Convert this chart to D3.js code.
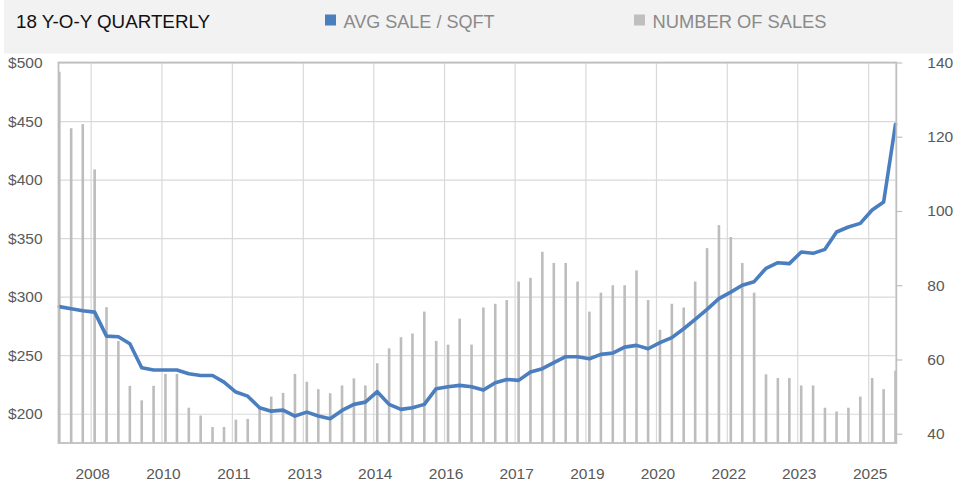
<!DOCTYPE html>
<html>
<head>
<meta charset="utf-8">
<script src="https://cdn.jsdelivr.net/npm/d3@7"></script>
<style>
  html, body { margin: 0; padding: 0; background: #ffffff; }
  svg { display: block; }
</style>
</head>
<body>
<svg id="chart" width="953" height="487"></svg>
<script>
// ---------------- DATA ----------------
const quarters = [
  "2007-11",
  "2008-02","2008-05","2008-08","2008-11",
  "2009-02","2009-05","2009-08","2009-11",
  "2010-02","2010-05","2010-08","2010-11",
  "2011-02","2011-05","2011-08","2011-11",
  "2012-02","2012-05","2012-08","2012-11",
  "2013-02","2013-05","2013-08","2013-11",
  "2014-02","2014-05","2014-08","2014-11",
  "2015-02","2015-05","2015-08","2015-11",
  "2016-02","2016-05","2016-08","2016-11",
  "2017-02","2017-05","2017-08","2017-11",
  "2018-02","2018-05","2018-08","2018-11",
  "2019-02","2019-05","2019-08","2019-11",
  "2020-02","2020-05","2020-08","2020-11",
  "2021-02","2021-05","2021-08","2021-11",
  "2022-02","2022-05","2022-08","2022-11",
  "2023-02","2023-05","2023-08","2023-11",
  "2024-02","2024-05","2024-08","2024-11",
  "2025-02","2025-05","2025-08"
];

// AVG SALE / SQFT (left axis, $)
const avgSaleSqft = [
  291.5, 289.7, 288.0, 286.8, 266.3, 265.8, 259.8, 239.3, 237.3, 237.3,
  237.3, 234.2, 232.7, 232.7, 227.0, 218.5, 215.0, 205.1, 202.2, 203.1,
  198.0, 201.4, 198.0, 195.7, 202.8, 208.0, 209.9, 218.8, 208.0, 203.7,
  205.1, 208.0, 221.4, 223.1, 224.2, 223.1, 220.2, 226.5, 229.3, 228.5,
  235.6, 238.5, 243.6, 248.7, 248.7, 247.0, 250.7, 251.8, 256.9, 258.4,
  255.5, 260.7, 265.0, 272.6, 280.6, 289.1, 298.3, 303.9, 309.7, 312.8,
  324.2, 329.0, 328.2, 338.1, 337.0, 340.4, 355.2, 359.5, 362.6, 374.0,
  380.9, 447.3
];

// NUMBER OF SALES (right axis)
const numberOfSales = [
  137.5, 122.3, 123.4, 111.2, 74.1, 65.0, 52.9, 49.0, 52.9, 56.1,
  56.1, 47.0, 44.9, 41.8, 41.8, 43.8, 44.0, 47.0, 50.0, 51.0,
  56.1, 54.0, 52.0, 50.9, 53.0, 54.9, 53.0, 59.0, 63.0, 66.0,
  67.0, 72.9, 65.0, 64.0, 71.0, 64.0, 74.0, 75.0, 76.0, 81.0,
  82.0, 89.0, 86.0, 86.0, 81.0, 72.9, 78.0, 80.0, 80.0, 84.0,
  76.0, 68.0, 75.0, 74.0, 81.0, 90.0, 96.2, 93.0, 86.0, 78.0,
  56.0, 55.0, 55.0, 53.0, 53.0, 47.0, 46.0, 47.0, 50.0, 55.0,
  52.0, 57.0
];

const leftTicks = [200, 250, 300, 350, 400, 450, 500];
const rightTicks = [40, 60, 80, 100, 120, 140];
const xTickDates = ["2008-07","2010-01","2011-07","2013-01","2014-07","2016-01",
                    "2017-07","2019-01","2020-07","2022-01","2023-07","2025-01"];
const xTickLabels = ["2008","2010","2011","2013","2014","2016",
                     "2017","2019","2020","2022","2023","2025"];

const titleText = "18 Y-O-Y QUARTERLY";
const legendNames = ["AVG SALE / SQFT", "NUMBER OF SALES"];
const legendColors = ["#4a7ebf", "#bfbfbf"];

// ---------------- LAYOUT ----------------
const W = 953, H = 487;
const plot = { left: 59.3, right: 895.5, top: 62.5, bottom: 443 };
const parseMonth = d3.timeParse("%Y-%m");
const dates = quarters.map(parseMonth);

const svg = d3.select("#chart");

// header band
svg.append("rect").attr("x", 4).attr("y", 0).attr("width", W - 4).attr("height", 53.5)
  .attr("fill", "#f2f2f2");

svg.append("text").attr("x", 16).attr("y", 28.3)
  .attr("font-family", "'Liberation Sans', Arial, sans-serif")
  .attr("font-size", 18.5).attr("fill", "#111111")
  .attr("textLength", 194).attr("lengthAdjust", "spacingAndGlyphs")
  .text(titleText);

const legendX = [325, 634];
const legendTextLen = [151, 174];
legendNames.forEach((name, i) => {
  svg.append("rect").attr("x", legendX[i]).attr("y", 14.5)
    .attr("width", 11).attr("height", 11).attr("fill", legendColors[i]);
  svg.append("text").attr("x", legendX[i] + 18.5).attr("y", 28.3)
    .attr("font-family", "'Liberation Sans', Arial, sans-serif")
    .attr("font-size", 18.5).attr("fill", "#8a8a8a")
    .attr("textLength", legendTextLen[i]).attr("lengthAdjust", "spacingAndGlyphs")
    .text(name);
});

// scales
const x = d3.scaleTime()
  .domain([dates[0], dates[dates.length - 1]])
  .range([plot.left, plot.right]);
const yL = d3.scaleLinear().domain([175, 500]).range([plot.bottom, plot.top]);
const yR = d3.scaleLinear().domain([37.5, 140]).range([plot.bottom, plot.top]);

const font = "'Liberation Sans', Arial, sans-serif";

// horizontal gridlines (left axis)
const gridH = d3.axisLeft(yL).tickValues(leftTicks)
  .tickSize(-(plot.right - plot.left)).tickFormat("");
svg.append("g").attr("transform", `translate(${plot.left},0)`).call(gridH)
  .call(g => g.select(".domain").remove())
  .call(g => g.selectAll("line").attr("stroke", "#d9d9d9").attr("stroke-width", 1.2));

// vertical gridlines
const xTicks = xTickDates.map(parseMonth);
const gridV = d3.axisBottom(x).tickValues(xTicks)
  .tickSize(-(plot.bottom - plot.top)).tickFormat("");
svg.append("g").attr("transform", `translate(0,${plot.bottom})`).call(gridV)
  .call(g => g.select(".domain").remove())
  .call(g => g.selectAll("line").attr("stroke", "#d9d9d9").attr("stroke-width", 1.2));

// bars
svg.append("g").selectAll("rect").data(numberOfSales).join("rect")
  .attr("x", (d, i) => x(dates[i]) - 1.3)
  .attr("width", 2.6)
  .attr("y", d => yR(d))
  .attr("height", d => plot.bottom - yR(d))
  .attr("fill", "#bdbdbd");

// line
const line = d3.line()
  .x((d, i) => x(dates[i]))
  .y(d => yL(d));
svg.append("path").datum(avgSaleSqft)
  .attr("d", line)
  .attr("fill", "none")
  .attr("stroke", "#4a7ebf")
  .attr("stroke-width", 3.6)
  .attr("stroke-linejoin", "round")
  .attr("stroke-linecap", "round");

// plot border
svg.append("rect")
  .attr("x", plot.left - 0.8).attr("y", plot.top)
  .attr("width", plot.right - plot.left + 1.6).attr("height", plot.bottom - plot.top)
  .attr("fill", "none").attr("stroke", "#bfbfbf").attr("stroke-width", 1.8);

// left axis labels
const axL = d3.axisLeft(yL).tickValues(leftTicks).tickSize(0).tickPadding(0)
  .tickFormat(d => "$" + d);
svg.append("g").attr("transform", `translate(42.5,0)`).call(axL)
  .call(g => g.select(".domain").remove())
  .call(g => g.selectAll("text").attr("font-family", font).attr("font-size", 15.5)
    .attr("fill", "#595959"));

// right axis ticks + labels
const axR = d3.axisRight(yR).tickValues(rightTicks).tickSize(6).tickPadding(25);
svg.append("g").attr("transform", `translate(${plot.right + 0.8},0)`).call(axR)
  .call(g => g.select(".domain").remove())
  .call(g => g.selectAll("line").attr("stroke", "#bfbfbf").attr("stroke-width", 1.2))
  .call(g => g.selectAll("text").attr("font-family", font).attr("font-size", 15.5)
    .attr("fill", "#595959"));

// x axis labels
const axX = d3.axisBottom(x).tickValues(xTicks).tickSize(0).tickPadding(0)
  .tickFormat((d, i) => xTickLabels[i]);
svg.append("g").attr("transform", `translate(1.5,${468})`).call(axX)
  .call(g => g.select(".domain").remove())
  .call(g => g.selectAll("text").attr("font-family", font).attr("font-size", 15.5)
    .attr("fill", "#595959"));
</script>
</body>
</html>
